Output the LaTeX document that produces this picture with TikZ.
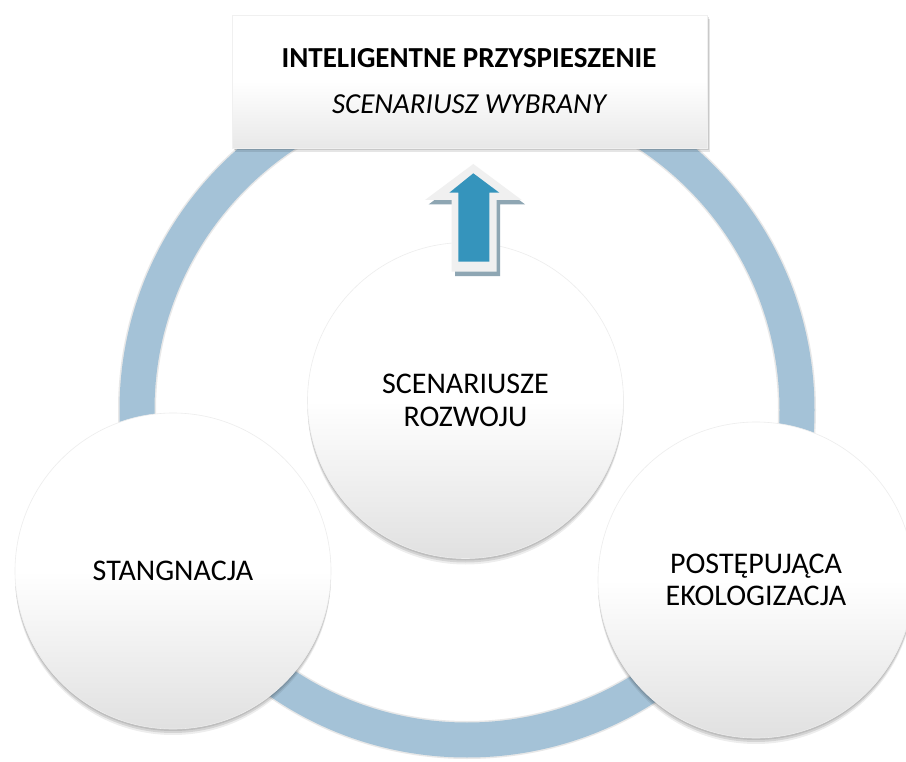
\documentclass[tikz,border=0pt]{standalone}
\usepackage{fontspec}
\setmainfont{Carlito}
\usetikzlibrary{shadows}
\definecolor{ringblue}{RGB}{164,194,215}
\definecolor{arrowblue}{RGB}{53,148,188}
\definecolor{arrowshade}{RGB}{142,166,179}
\definecolor{arrowlight}{RGB}{240,240,240}
\begin{document}
\begin{tikzpicture}[x=1pt,y=-1pt,
  softshadow/.style={
    drop shadow={shadow xshift=0pt,shadow yshift=-2pt,opacity=.10,fill=black},
    drop shadow={shadow xshift=0pt,shadow yshift=-4pt,opacity=.10,fill=black},
    drop shadow={shadow xshift=0pt,shadow yshift=-6pt,opacity=.07,fill=black}},
  bubble/.style={circle,minimum size=316pt,inner sep=0pt,align=center,
    font=\fontsize{30}{32.5}\selectfont,
    top color=white,bottom color=black!12,middle color=white,
    draw=black!7,line width=0.6pt,softshadow},
  titlebox/.style={rectangle,minimum width=475pt,minimum height=133pt,inner sep=0pt,
    top color=white,bottom color=black!9,middle color=white,
    draw=black!6,line width=0.5pt,
    drop shadow={shadow xshift=2pt,shadow yshift=-2pt,opacity=.12,fill=black},
    drop shadow={shadow xshift=3pt,shadow yshift=-4pt,opacity=.10,fill=black}},
  titletext/.style={align=center,inner sep=0pt,font=\fontsize{29}{46}\selectfont},
  ringstyle/.style={circle,minimum size=660pt,inner sep=0pt,draw=ringblue,line width=35pt,
    preaction={draw=black!35,line width=38pt,opacity=.25}}
]
\useasboundingbox (0,0) rectangle (906,762);
\clip (0,0) rectangle (906,762);
\fill[white] (0,0) rectangle (906,762);

% ring
\node[ringstyle] (ring) at (467,410) {};

% title box
\node[titlebox] (title) at (469.5,81.5) {};
\node[titletext] (titlelbl) at (469,81.5) {{\bfseries INTELIGENTNE PRZYSPIESZENIE}\\{\itshape SCENARIUSZ WYBRANY}};

% central circle
\node[bubble] (center) at (465.5,400.5) {SCENARIUSZE\\ROZWOJU};

% arrow
\fill[arrowshade, shift={(3.5,4.5)}] (473.3,164) -- (521.7,200) -- (496.7,200) -- (496.7,271.7) -- (451.7,271.7) -- (451.7,200) -- (425,200) -- cycle;
\fill[arrowlight] (473.3,164) -- (521.7,200) -- (496.7,200) -- (496.7,271.7) -- (451.7,271.7) -- (451.7,200) -- (425,200) -- cycle;
\fill[arrowblue] (473.3,173.3) -- (499.3,192.7) -- (489.3,192.7) -- (489.3,261.7) -- (458.3,261.7) -- (458.3,192.7) -- (449.3,192.7) -- cycle;

% side circles
\node[bubble] (left) at (173,571) {STANGNACJA};
\node[bubble] (right) at (756,580) {POSTĘPUJĄCA\\EKOLOGIZACJA};
\end{tikzpicture}
\end{document}
